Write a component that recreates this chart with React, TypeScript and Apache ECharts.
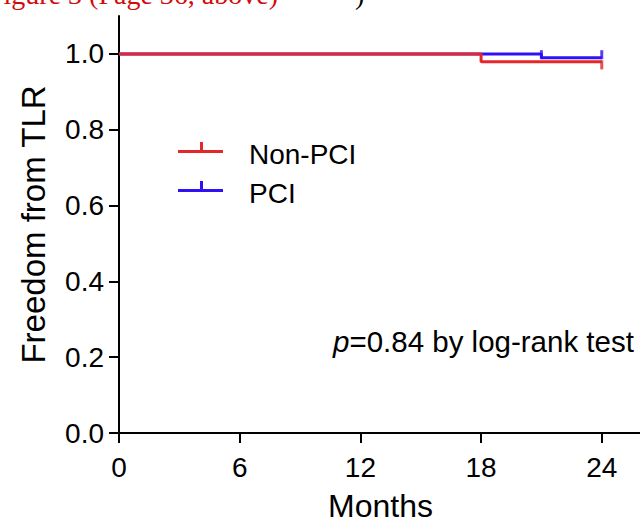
import React, { useEffect, useRef } from 'react';
import * as echarts from 'echarts';

const monthTicks = [0, 6, 12, 18, 24];
const yTicks = [0, 0.2, 0.4, 0.6, 0.8, 1.0];

const nonPciTime = [0, 18, 24];
const nonPciSurv = [1.0, 0.979, 0.979];
const pciTime = [0, 21, 24];
const pciSurv = [1.0, 0.99, 0.99];

const nonPciCensorTime = [24];
const nonPciCensorSurv = [0.979];
const pciCensorTime = [21, 24];
const pciCensorSurv = [0.99, 0.99];

const RED = '#e4272b';
const BLUE = '#3010f5';
const FONT = '"Liberation Sans", Arial, sans-serif';

export default function App() {
  const ref = useRef<HTMLDivElement>(null);
  useEffect(() => {
    const chart = echarts.init(ref.current!, null, { renderer: 'svg' });
    const axisCommon = {
      type: 'value',
      axisLine: { show: true, onZero: true, lineStyle: { color: '#000', width: 2 } },
      axisTick: { show: true, length: 10, lineStyle: { color: '#000', width: 2 } },
      splitLine: { show: false },
    };
    chart.setOption({
      animation: false,
      backgroundColor: '#fff',
      grid: { left: 119, top: 16, width: 523, height: 417, containLabel: false, outerBoundsMode: 'none' },
      xAxis: {
        ...axisCommon,
        min: 0,
        max: 26,
        axisTick: { ...axisCommon.axisTick, customValues: monthTicks },
        axisLabel: { customValues: monthTicks, fontSize: 28, color: '#000', margin: 20, fontFamily: FONT },
        name: 'Months',
        nameLocation: 'middle',
        nameGap: 57,
        nameTextStyle: { fontSize: 32, lineHeight: 31, color: '#000', fontFamily: FONT },
      },
      yAxis: {
        ...axisCommon,
        min: 0,
        max: 1.1,
        axisTick: { ...axisCommon.axisTick, customValues: yTicks },
        axisLabel: {
          customValues: yTicks,
          fontSize: 28,
          color: '#000',
          margin: 15,
          fontFamily: FONT,
          formatter: (v: number) => v.toFixed(1),
        },
        name: 'Freedom from TLR',
        nameLocation: 'middle',
        nameRotate: 90,
        nameGap: 69,
        nameTextStyle: { fontSize: 33, color: '#000', fontFamily: FONT },
      },
      series: [
        {
          name: 'PCI',
          type: 'line',
          step: 'end',
          symbol: 'none',
          data: pciTime.map((t, i) => [t, pciSurv[i]]),
          lineStyle: { color: BLUE, width: 3 },
          z: 2,
        },
        {
          name: 'Non-PCI',
          type: 'line',
          step: 'end',
          symbol: 'none',
          data: nonPciTime.map((t, i) => [t, nonPciSurv[i]]),
          lineStyle: { color: RED, width: 3 },
          z: 3,
        },
        {
          name: 'PCI censored',
          type: 'scatter',
          symbol: 'rect',
          symbolSize: [3, 9],
          symbolOffset: [0, -3],
          data: pciCensorTime.map((t, i) => [t, pciCensorSurv[i]]),
          itemStyle: { color: BLUE },
          z: 4,
        },
        {
          name: 'Non-PCI censored',
          type: 'scatter',
          symbol: 'rect',
          symbolSize: [3, 9],
          symbolOffset: [0, 3],
          data: nonPciCensorTime.map((t, i) => [t, nonPciCensorSurv[i]]),
          itemStyle: { color: RED },
          z: 4,
        },
      ],
      graphic: [
        {
          type: 'text',
          left: -12,
          top: -20,
          style: { text: 'Figure 3 (Page 36, above)', font: '28px "Liberation Serif", serif', fill: '#d10a0a' },
        },
        {
          type: 'text',
          left: 355,
          top: -20,
          style: { text: ')', font: '28px "Liberation Serif", serif', fill: '#000' },
        },
        { type: 'rect', shape: { x: 178, y: 150, width: 45, height: 3 }, style: { fill: RED } },
        { type: 'rect', shape: { x: 200, y: 142, width: 3, height: 9 }, style: { fill: RED } },
        {
          type: 'text',
          x: 249,
          y: 154,
          style: { text: 'Non-PCI', font: `28px ${FONT}`, fill: '#000', textVerticalAlign: 'middle', verticalAlign: 'middle' },
        },
        { type: 'rect', shape: { x: 178, y: 189, width: 45, height: 3 }, style: { fill: BLUE } },
        { type: 'rect', shape: { x: 200, y: 181, width: 3, height: 9 }, style: { fill: BLUE } },
        {
          type: 'text',
          x: 249,
          y: 193,
          style: { text: 'PCI', font: `28px ${FONT}`, fill: '#000', textVerticalAlign: 'middle', verticalAlign: 'middle' },
        },
        {
          type: 'text',
          x: 333,
          y: 341,
          style: {
            text: '{i|p}=0.84 by log-rank test',
            font: `29.5px ${FONT}`,
            fill: '#000',
            textVerticalAlign: 'middle',
            verticalAlign: 'middle',
            rich: {
              i: { fontStyle: 'italic', fontSize: 29.5, fontFamily: FONT, fill: '#000' },
            },
          },
        },
      ],
    });
    return () => chart.dispose();
  }, []);
  return <div ref={ref} style={{ position: 'fixed', left: 0, top: 0, width: 640, height: 523 }} />;
}
